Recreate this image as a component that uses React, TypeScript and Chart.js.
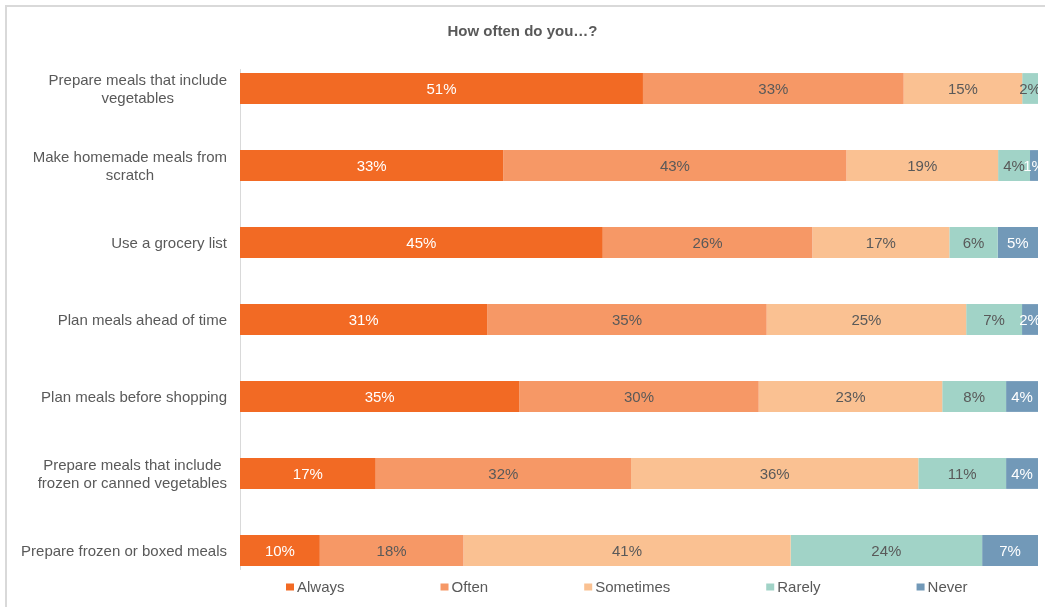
import React, { useEffect, useRef } from "react";
import { Chart, registerables } from "chart.js";

Chart.register(...registerables);

const titleText = "How often do you…?";

const categories: string[][] = [
  ["Prepare meals that include", "vegetables"],
  ["Make homemade meals from", "scratch"],
  ["Use a grocery list"],
  ["Plan meals ahead of time"],
  ["Plan meals before shopping"],
  ["Prepare meals that include", "frozen or canned vegetables"],
  ["Prepare frozen or boxed meals"],
];

const seriesNames = ["Always", "Often", "Sometimes", "Rarely", "Never"];

const always = [51, 33, 45, 31, 35, 17, 10];
const often = [33, 43, 26, 35, 30, 32, 18];
const sometimes = [15, 19, 17, 25, 23, 36, 41];
const rarely = [2, 4, 6, 7, 8, 11, 24];
const never = [0, 1, 5, 2, 4, 4, 7];

const seriesValues = [always, often, sometimes, rarely, never];

const seriesColors = ["#F26A24", "#F69866", "#FAC192", "#A1D3C7", "#7299B8"];
const labelColors = ["#FFFFFF", "#595959", "#595959", "#595959", "#FFFFFF"];

const FONT = "'Liberation Sans', Arial, sans-serif";
const GREY = "#595959";

export default function App() {
  const ref = useRef<HTMLCanvasElement | null>(null);

  useEffect(() => {
    const canvas = ref.current;
    if (!canvas) return;

    const rowSums = categories.map((_, i) =>
      seriesValues.reduce((s, arr) => s + arr[i], 0)
    );

    const datasets = seriesNames.map((name, d) => ({
      label: name,
      data: seriesValues[d].map((v, i) => (v / rowSums[i]) * 100),
      backgroundColor: seriesColors[d],
      borderWidth: 0,
      categoryPercentage: 1,
      barPercentage: 0.4,
    }));

    const customPlugin = {
      id: "custom",
      beforeDatasetsDraw(chart: any) {
        const ctx = chart.ctx;
        const area = chart.chartArea;
        const meta0 = chart.getDatasetMeta(0);
        const first = meta0.data[0];
        const last = meta0.data[meta0.data.length - 1];
        if (!first || !last) return;
        const top = first.y - first.height / 2 - 4;
        const bottom = last.y + last.height / 2 + 4;
        ctx.save();
        ctx.strokeStyle = "#D9D9D9";
        ctx.lineWidth = 1;
        ctx.beginPath();
        ctx.moveTo(area.left + 0.5, top);
        ctx.lineTo(area.left + 0.5, bottom);
        ctx.stroke();
        ctx.restore();
      },
      afterDatasetsDraw(chart: any) {
        const ctx = chart.ctx;
        const area = chart.chartArea;
        ctx.save();
        ctx.beginPath();
        ctx.rect(area.left, area.top, area.right - area.left, area.bottom - area.top);
        ctx.clip();
        ctx.font = `15px ${FONT}`;
        ctx.textAlign = "center";
        ctx.textBaseline = "middle";
        seriesNames.forEach((_, d) => {
          const meta = chart.getDatasetMeta(d);
          meta.data.forEach((el: any, i: number) => {
            const v = seriesValues[d][i];
            if (!v) return;
            const cx = (el.x + el.base) / 2;
            ctx.fillStyle = labelColors[d];
            ctx.fillText(`${v}%`, cx, el.y + 1);
          });
        });
        ctx.restore();
      },
      afterDraw(chart: any) {
        const ctx = chart.ctx;
        const area = chart.chartArea;
        const yScale = chart.scales.y;
        ctx.save();
        ctx.font = `15px ${FONT}`;
        ctx.fillStyle = GREY;
        ctx.textAlign = "center";
        ctx.textBaseline = "middle";
        const right = area.left - 13;
        categories.forEach((lines, i) => {
          const cy = yScale.getPixelForValue(i);
          const maxW = Math.max(...lines.map((l) => ctx.measureText(l).width));
          const cx = right - maxW / 2;
          lines.forEach((line, j) => {
            const y = cy + (j - (lines.length - 1) / 2) * 18;
            ctx.fillText(line, cx, y + 1);
          });
        });

        // legend
        ctx.textAlign = "left";
        let x = 279;
        const ly = 579.5;
        seriesNames.forEach((name, d) => {
          ctx.fillStyle = seriesColors[d];
          ctx.fillRect(x, ly - 3, 8, 7);
          ctx.fillStyle = GREY;
          ctx.fillText(name, x + 11, ly + 1);
          x += 11 + ctx.measureText(name).width + 96;
        });
        ctx.restore();
      },
    };

    const chart = new Chart(canvas, {
      type: "bar",
      data: {
        labels: categories as any,
        datasets: datasets as any,
      },
      options: {
        indexAxis: "y",
        responsive: false,
        animation: false,
        layout: { padding: { left: 0, right: 18, top: 0, bottom: 18 } },
        scales: {
          x: { stacked: true, min: 0, max: 100, display: false },
          y: {
            stacked: true,
            grid: { display: false, drawTicks: false },
            border: { display: false },
            ticks: { display: false },
            afterFit(scale: any) {
              scale.width = 233;
            },
          },
        },
        plugins: {
          legend: { display: false },
          tooltip: { enabled: false },
          title: {
            display: true,
            text: titleText,
            color: GREY,
            font: { family: FONT, size: 15, weight: "bold" },
            padding: { top: 16, bottom: 9 },
          },
        },
      } as any,
      plugins: [customPlugin],
    });

    return () => chart.destroy();
  }, []);

  return (
    <div
      style={{
        position: "absolute",
        left: 0,
        top: 0,
        width: 1045,
        height: 607,
        overflow: "hidden",
        background: "#FFFFFF",
      }}
    >
      <div
        style={{
          position: "absolute",
          left: 5,
          top: 5,
          width: 1049,
          height: 600,
          borderLeft: "2px solid #D9D9D9",
          borderTop: "2px solid #D9D9D9",
          background: "#FFFFFF",
        }}
      >
        <canvas ref={ref} width={1049} height={600} style={{ display: "block" }} />
      </div>
    </div>
  );
}
